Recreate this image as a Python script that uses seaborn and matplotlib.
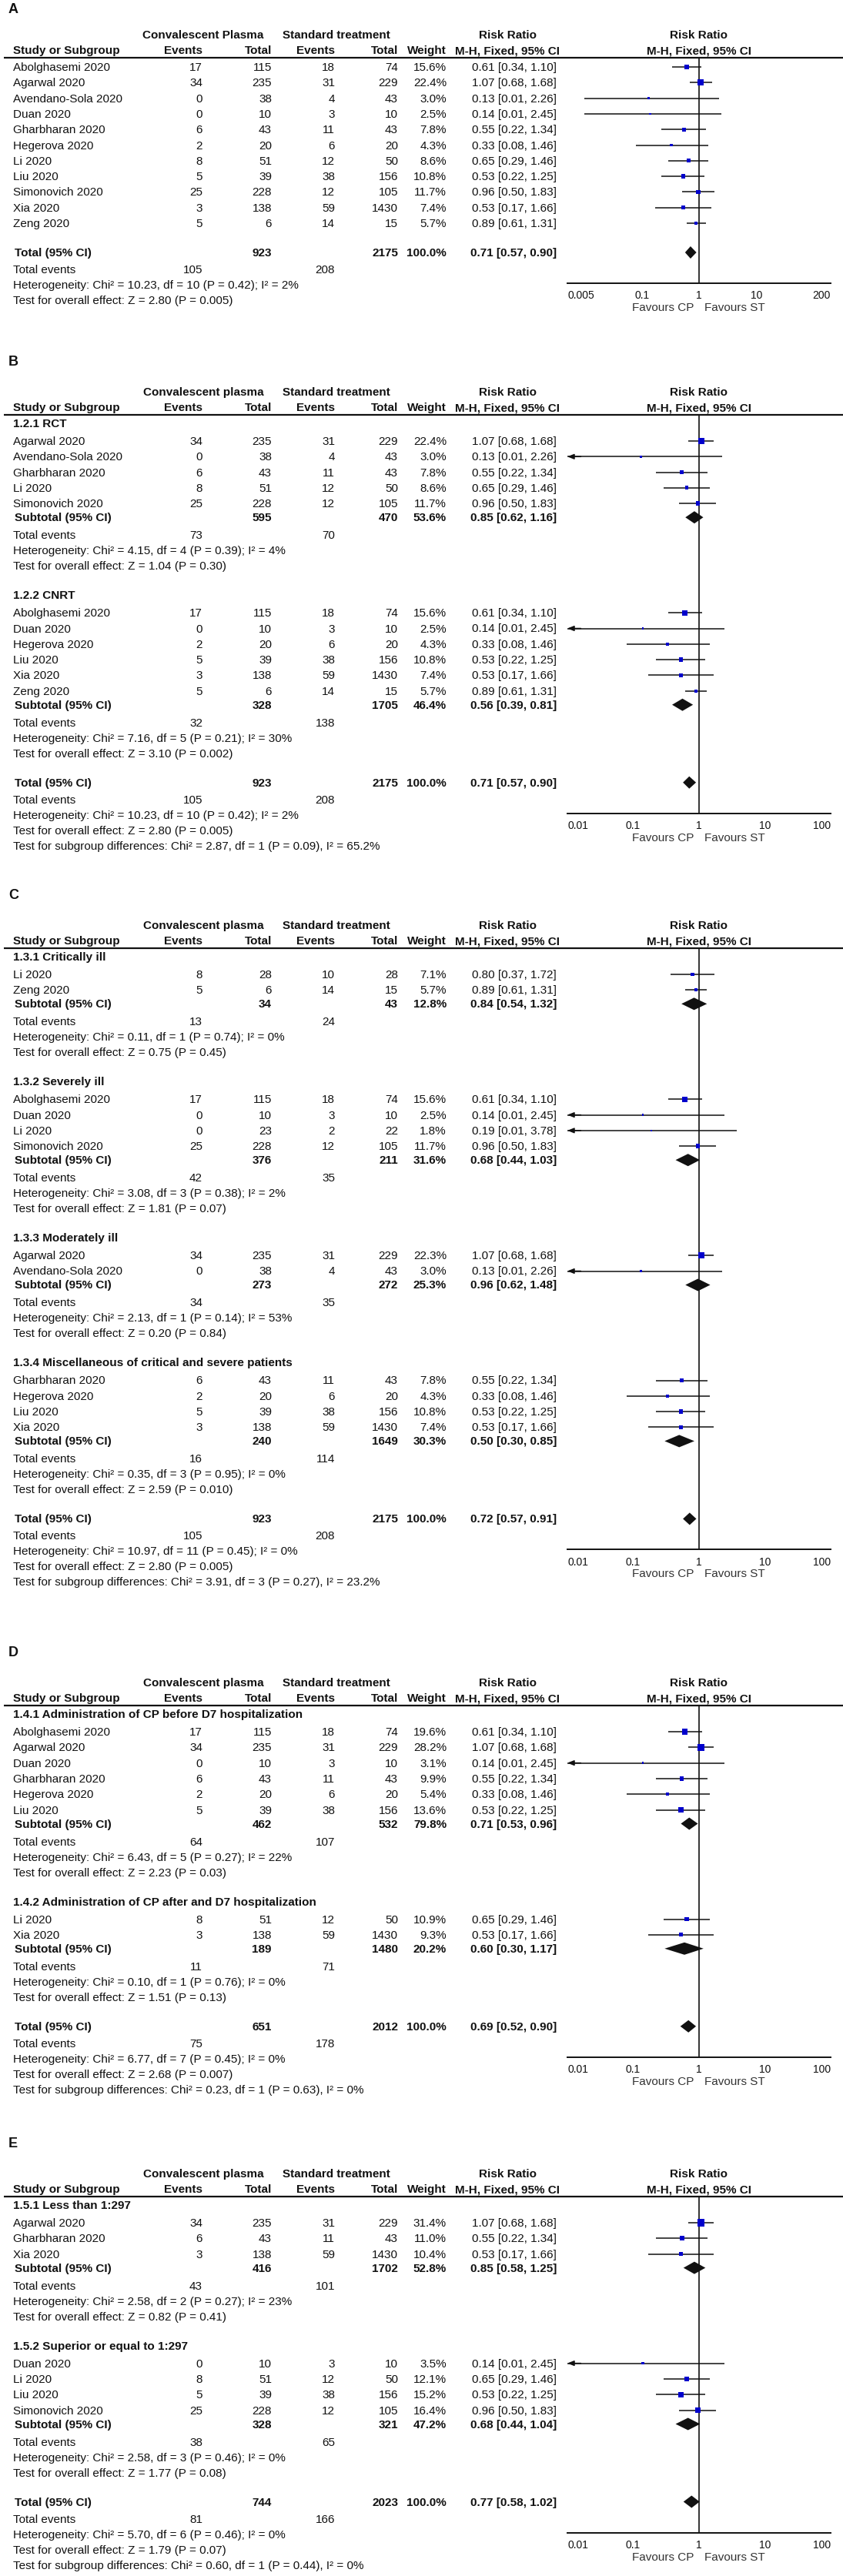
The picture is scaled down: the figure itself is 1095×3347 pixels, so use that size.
import numpy as np
import pandas as pd
import matplotlib.pyplot as plt
import seaborn as sns

# ======================================
# STUDY DATA
# ======================================

study = ["Abolghasemi 2020", "Agarwal 2020", "Avendano-Sola 2020", "Duan 2020",
         "Gharbharan 2020", "Hegerova 2020", "Li 2020", "Liu 2020",
         "Simonovich 2020", "Xia 2020", "Zeng 2020",
         "Li 2020 (critical)", "Li 2020 (severe)"]
cp_events = [17, 34, 0, 0, 6, 2, 8, 5, 25, 3, 5, 8, 0]
cp_total = [115, 235, 38, 10, 43, 20, 51, 39, 228, 138, 6, 28, 23]
st_events = [18, 31, 4, 3, 11, 6, 12, 38, 12, 59, 14, 10, 2]
st_total = [74, 229, 43, 10, 43, 20, 50, 156, 105, 1430, 15, 28, 22]
rr = [0.61, 1.07, 0.13, 0.14, 0.55, 0.33, 0.65, 0.53, 0.96, 0.53, 0.89, 0.80, 0.19]
rr_lo = [0.34, 0.68, 0.01, 0.01, 0.22, 0.08, 0.29, 0.22, 0.50, 0.17, 0.61, 0.37, 0.01]
rr_hi = [1.10, 1.68, 2.26, 2.45, 1.34, 1.46, 1.46, 1.25, 1.83, 1.66, 1.31, 1.72, 3.78]

# ======================================
# PANEL A - all studies
# ======================================

A_groups = [None]
A_members = [["Abolghasemi 2020", "Agarwal 2020", "Avendano-Sola 2020", "Duan 2020",
              "Gharbharan 2020", "Hegerova 2020", "Li 2020", "Liu 2020",
              "Simonovich 2020", "Xia 2020", "Zeng 2020"]]
A_weights = [[15.6, 22.4, 3.0, 2.5, 7.8, 4.3, 8.6, 10.8, 11.7, 7.4, 5.7]]
A_total = (923, 2175)
A_total_ci = (0.71, 0.57, 0.90)
A_total_events = (105, 208)
A_total_het = "Heterogeneity: Chi² = 10.23, df = 10 (P = 0.42); I² = 2%"
A_total_z = "Test for overall effect: Z = 2.80 (P = 0.005)"
A_ticks = [0.005, 0.1, 1, 10, 200]

# ======================================
# PANEL B - study design
# ======================================

B_groups = ["1.2.1 RCT", "1.2.2 CNRT"]
B_members = [["Agarwal 2020", "Avendano-Sola 2020", "Gharbharan 2020", "Li 2020", "Simonovich 2020"],
             ["Abolghasemi 2020", "Duan 2020", "Hegerova 2020", "Liu 2020", "Xia 2020", "Zeng 2020"]]
B_weights = [[22.4, 3.0, 7.8, 8.6, 11.7], [15.6, 2.5, 4.3, 10.8, 7.4, 5.7]]
B_sub_totals = [(595, 470), (328, 1705)]
B_sub_weight = [53.6, 46.4]
B_sub_ci = [(0.85, 0.62, 1.16), (0.56, 0.39, 0.81)]
B_sub_events = [(73, 70), (32, 138)]
B_sub_het = ["Heterogeneity: Chi² = 4.15, df = 4 (P = 0.39); I² = 4%",
             "Heterogeneity: Chi² = 7.16, df = 5 (P = 0.21); I² = 30%"]
B_sub_z = ["Test for overall effect: Z = 1.04 (P = 0.30)",
           "Test for overall effect: Z = 3.10 (P = 0.002)"]
B_total = (923, 2175)
B_total_ci = (0.71, 0.57, 0.90)
B_total_events = (105, 208)
B_total_het = "Heterogeneity: Chi² = 10.23, df = 10 (P = 0.42); I² = 2%"
B_total_z = "Test for overall effect: Z = 2.80 (P = 0.005)"
B_diff = "Test for subgroup differences: Chi² = 2.87, df = 1 (P = 0.09), I² = 65.2%"

# ======================================
# PANEL C - severity
# ======================================

C_groups = ["1.3.1 Critically ill", "1.3.2 Severely ill", "1.3.3 Moderately ill",
            "1.3.4 Miscellaneous of critical and severe patients"]
C_members = [["Li 2020 (critical)", "Zeng 2020"],
             ["Abolghasemi 2020", "Duan 2020", "Li 2020 (severe)", "Simonovich 2020"],
             ["Agarwal 2020", "Avendano-Sola 2020"],
             ["Gharbharan 2020", "Hegerova 2020", "Liu 2020", "Xia 2020"]]
C_weights = [[7.1, 5.7], [15.6, 2.5, 1.8, 11.7], [22.3, 3.0], [7.8, 4.3, 10.8, 7.4]]
C_sub_totals = [(34, 43), (376, 211), (273, 272), (240, 1649)]
C_sub_weight = [12.8, 31.6, 25.3, 30.3]
C_sub_ci = [(0.84, 0.54, 1.32), (0.68, 0.44, 1.03), (0.96, 0.62, 1.48), (0.50, 0.30, 0.85)]
C_sub_events = [(13, 24), (42, 35), (34, 35), (16, 114)]
C_sub_het = ["Heterogeneity: Chi² = 0.11, df = 1 (P = 0.74); I² = 0%",
             "Heterogeneity: Chi² = 3.08, df = 3 (P = 0.38); I² = 2%",
             "Heterogeneity: Chi² = 2.13, df = 1 (P = 0.14); I² = 53%",
             "Heterogeneity: Chi² = 0.35, df = 3 (P = 0.95); I² = 0%"]
C_sub_z = ["Test for overall effect: Z = 0.75 (P = 0.45)",
           "Test for overall effect: Z = 1.81 (P = 0.07)",
           "Test for overall effect: Z = 0.20 (P = 0.84)",
           "Test for overall effect: Z = 2.59 (P = 0.010)"]
C_total = (923, 2175)
C_total_ci = (0.72, 0.57, 0.91)
C_total_events = (105, 208)
C_total_het = "Heterogeneity: Chi² = 10.97, df = 11 (P = 0.45); I² = 0%"
C_total_z = "Test for overall effect: Z = 2.80 (P = 0.005)"
C_diff = "Test for subgroup differences: Chi² = 3.91, df = 3 (P = 0.27), I² = 23.2%"

# ======================================
# PANEL D - timing of administration
# ======================================

D_groups = ["1.4.1 Administration of CP before D7 hospitalization",
            "1.4.2 Administration of CP after and D7 hospitalization"]
D_members = [["Abolghasemi 2020", "Agarwal 2020", "Duan 2020", "Gharbharan 2020",
              "Hegerova 2020", "Liu 2020"],
             ["Li 2020", "Xia 2020"]]
D_weights = [[19.6, 28.2, 3.1, 9.9, 5.4, 13.6], [10.9, 9.3]]
D_sub_totals = [(462, 532), (189, 1480)]
D_sub_weight = [79.8, 20.2]
D_sub_ci = [(0.71, 0.53, 0.96), (0.60, 0.30, 1.17)]
D_sub_events = [(64, 107), (11, 71)]
D_sub_het = ["Heterogeneity: Chi² = 6.43, df = 5 (P = 0.27); I² = 22%",
             "Heterogeneity: Chi² = 0.10, df = 1 (P = 0.76); I² = 0%"]
D_sub_z = ["Test for overall effect: Z = 2.23 (P = 0.03)",
           "Test for overall effect: Z = 1.51 (P = 0.13)"]
D_total = (651, 2012)
D_total_ci = (0.69, 0.52, 0.90)
D_total_events = (75, 178)
D_total_het = "Heterogeneity: Chi² = 6.77, df = 7 (P = 0.45); I² = 0%"
D_total_z = "Test for overall effect: Z = 2.68 (P = 0.007)"
D_diff = "Test for subgroup differences: Chi² = 0.23, df = 1 (P = 0.63), I² = 0%"

# ======================================
# PANEL E - antibody titre
# ======================================

E_groups = ["1.5.1 Less than 1:297", "1.5.2 Superior or equal to 1:297"]
E_members = [["Agarwal 2020", "Gharbharan 2020", "Xia 2020"],
             ["Duan 2020", "Li 2020", "Liu 2020", "Simonovich 2020"]]
E_weights = [[31.4, 11.0, 10.4], [3.5, 12.1, 15.2, 16.4]]
E_sub_totals = [(416, 1702), (328, 321)]
E_sub_weight = [52.8, 47.2]
E_sub_ci = [(0.85, 0.58, 1.25), (0.68, 0.44, 1.04)]
E_sub_events = [(43, 101), (38, 65)]
E_sub_het = ["Heterogeneity: Chi² = 2.58, df = 2 (P = 0.27); I² = 23%",
             "Heterogeneity: Chi² = 2.58, df = 3 (P = 0.46); I² = 0%"]
E_sub_z = ["Test for overall effect: Z = 0.82 (P = 0.41)",
           "Test for overall effect: Z = 1.77 (P = 0.08)"]
E_total = (744, 2023)
E_total_ci = (0.77, 0.58, 1.02)
E_total_events = (81, 166)
E_total_het = "Heterogeneity: Chi² = 5.70, df = 6 (P = 0.46); I² = 0%"
E_total_z = "Test for overall effect: Z = 1.79 (P = 0.07)"
E_diff = "Test for subgroup differences: Chi² = 0.60, df = 1 (P = 0.44), I² = 0%"

RR_TICKS = [0.01, 0.1, 1, 10, 100]

studies = pd.DataFrame({
    "study": study, "cp_events": cp_events, "cp_total": cp_total,
    "st_events": st_events, "st_total": st_total,
    "rr": rr, "lo": rr_lo, "hi": rr_hi,
}).set_index("study")

# ======================================
# LAYOUT / STYLE
# ======================================

sns.set_style("white")
plt.rcParams["font.family"] = ["Liberation Sans", "DejaVu Sans"]

W, H = 1095, 3348
INK = "#111111"
SQUARE = "#0000cc"

X_STUDY, X_CPE, X_CPT, X_STE, X_STT, X_W, X_RR = 17, 263, 353, 435, 517, 580, 723
X_PLOT0, X_PLOT1 = 737, 1079
X_ZERO = (X_PLOT0 + X_PLOT1) / 2
X_CP_HEAD, X_ST_HEAD, X_RR_HEAD = 264, 437, 659
STEP = 20.3

fig = plt.figure(figsize=(W / 100, H / 100), dpi=100)
bg = fig.add_axes([0, 0, 1, 1])
bg.set_xlim(0, W)
bg.set_ylim(H, 0)
bg.axis("off")


def txt(x, y, s, ha="left", bold=False, size=11, color=INK):
    bg.text(x, y, s, ha=ha, va="center", fontsize=size,
            fontweight="bold" if bold else "normal", color=color)


def ci_text(est, lo, hi):
    return f"{est:.2f} [{lo:.2f}, {hi:.2f}]"


def draw_panel(p):
    txt(11, p["label_y"], p["letter"], bold=True, size=13)

    # header
    y = p["h1"]
    txt(X_CP_HEAD, y, p["cp_head"], ha="center", bold=True)
    txt(X_ST_HEAD, y, "Standard treatment", ha="center", bold=True)
    txt(X_RR_HEAD, y, "Risk Ratio", ha="center", bold=True)
    txt(X_ZERO, y, "Risk Ratio", ha="center", bold=True)
    y += 20
    txt(X_STUDY, y, "Study or Subgroup", bold=True)
    txt(X_CPE, y, "Events", ha="right", bold=True)
    txt(X_CPT, y, "Total", ha="right", bold=True)
    txt(X_STE, y, "Events", ha="right", bold=True)
    txt(X_STT, y, "Total", ha="right", bold=True)
    txt(X_W, y, "Weight", ha="right", bold=True)
    txt(X_RR_HEAD, y, "M-H, Fixed, 95% CI", ha="center", bold=True)
    txt(X_ZERO, y, "M-H, Fixed, 95% CI", ha="center", bold=True)
    y_line = y + 10
    bg.hlines(y_line, 5, W, color=INK, lw=1.6)

    pts = []
    pooled = []
    y = y_line
    for g, name in enumerate(p["groups"]):
        if name:
            y += 11 if g == 0 else 38
            txt(X_STUDY, y, name, bold=True)
            y += 23
        else:
            y += 12
        for k, key in enumerate(p["members"][g]):
            if k:
                y += STEP
            s = studies.loc[key]
            w = p["weights"][g][k]
            txt(X_STUDY, y, key.split(" (")[0])
            txt(X_CPE, y, f"{int(s.cp_events)}", ha="right")
            txt(X_CPT, y, f"{int(s.cp_total)}", ha="right")
            txt(X_STE, y, f"{int(s.st_events)}", ha="right")
            txt(X_STT, y, f"{int(s.st_total)}", ha="right")
            txt(X_W, y, f"{w:.1f}%", ha="right")
            txt(X_RR, y, ci_text(s.rr, s.lo, s.hi), ha="right")
            pts.append((s.rr, s.lo, s.hi, w, y))
        if name:
            y += 18
            est, lo, hi = p["sub_ci"][g]
            txt(X_STUDY + 2, y, "Subtotal (95% CI)", bold=True)
            txt(X_CPT, y, f"{p['sub_totals'][g][0]}", ha="right", bold=True)
            txt(X_STT, y, f"{p['sub_totals'][g][1]}", ha="right", bold=True)
            txt(X_W, y, f"{p['sub_weight'][g]:.1f}%", ha="right", bold=True)
            txt(X_RR, y, ci_text(est, lo, hi), ha="right", bold=True)
            pooled.append((est, lo, hi, y))
            y += 23
            txt(X_STUDY, y, "Total events")
            txt(X_CPE, y, f"{p['sub_events'][g][0]}", ha="right")
            txt(X_STE, y, f"{p['sub_events'][g][1]}", ha="right")
            y += 20
            txt(X_STUDY, y, p["sub_het"][g])
            y += 20
            txt(X_STUDY, y, p["sub_z"][g])

    # overall total
    y += 38
    y_total = y
    est, lo, hi = p["total_ci"]
    txt(X_STUDY + 2, y, "Total (95% CI)", bold=True)
    txt(X_CPT, y, f"{p['total'][0]}", ha="right", bold=True)
    txt(X_STT, y, f"{p['total'][1]}", ha="right", bold=True)
    txt(X_W, y, "100.0%", ha="right", bold=True)
    txt(X_RR, y, ci_text(est, lo, hi), ha="right", bold=True)
    pooled.append((est, lo, hi, y))
    y += 22
    txt(X_STUDY, y, "Total events")
    txt(X_CPE, y, f"{p['total_events'][0]}", ha="right")
    txt(X_STE, y, f"{p['total_events'][1]}", ha="right")
    y += 20
    txt(X_STUDY, y, p["total_het"])
    y += 20
    txt(X_STUDY, y, p["total_z"])
    if p.get("diff"):
        y += 20
        txt(X_STUDY, y, p["diff"])

    # forest plot
    axis_y = y_total + 40
    ticks = p["ticks"]
    ax = fig.add_axes([X_PLOT0 / W, 1 - axis_y / H,
                       (X_PLOT1 - X_PLOT0) / W, (axis_y - y_line) / H])
    ax.patch.set_alpha(0)
    ax.set_xscale("log")

    df = pd.DataFrame(pts, columns=["rr", "lo", "hi", "weight", "y"])
    xmin = ticks[0]
    for r in df.itertuples():
        if r.lo <= xmin:
            ax.hlines(r.y, xmin, r.hi, color=INK, lw=1.1, zorder=2)
            ax.annotate("", xy=(xmin, r.y), xytext=(xmin * 1.6, r.y),
                        arrowprops=dict(arrowstyle="-|>,head_length=0.5,head_width=0.2",
                                        color=INK, lw=1.1, shrinkA=0, shrinkB=0),
                        annotation_clip=False)
        else:
            ax.hlines(r.y, r.lo, r.hi, color=INK, lw=1.1, zorder=2)

    sns.scatterplot(data=df, x="rr", y="y", size="weight", sizes=(0, 52),
                    size_norm=(0, 35), marker="s", color=SQUARE, linewidth=0,
                    legend=False, ax=ax, zorder=4)

    for est, lo, hi, yy in pooled:
        ax.fill([lo, est, hi, est], [yy, yy - 8, yy, yy + 8], color=INK, lw=0, zorder=4)

    ax.axvline(1, color=INK, lw=1.2, zorder=1)
    ax.set_xlim(ticks[0], ticks[-1])
    ax.set_ylim(axis_y, y_line)

    for side in ["top", "right", "left"]:
        ax.spines[side].set_visible(False)
    ax.spines["bottom"].set_color(INK)
    ax.spines["bottom"].set_linewidth(1.4)
    ax.set_yticks([])
    ax.set_xlabel("")
    ax.set_ylabel("")
    ax.set_xticks(ticks)
    ax.xaxis.set_minor_locator(plt.NullLocator())
    ax.set_xticklabels([f"{t:g}" for t in ticks])
    ax.tick_params(axis="x", direction="inout", length=10, width=1.2,
                   labelsize=10, pad=1, colors=INK)
    labels = ax.get_xticklabels()
    labels[0].set_ha("left")
    labels[-1].set_ha("right")

    txt(X_ZERO - 7, axis_y + 31, "Favours CP", ha="right", color="#333333")
    txt(X_ZERO + 7, axis_y + 31, "Favours ST", ha="left", color="#333333")


# ======================================
# BUILD PANELS
# ======================================

panels = [
    dict(letter="A", label_y=12, h1=46, cp_head="Convalescent Plasma",
         groups=A_groups, members=A_members, weights=A_weights,
         total=A_total, total_ci=A_total_ci, total_events=A_total_events,
         total_het=A_total_het, total_z=A_total_z, diff=None, ticks=A_ticks),
    dict(letter="B", label_y=470, h1=510, cp_head="Convalescent plasma",
         groups=B_groups, members=B_members, weights=B_weights,
         sub_totals=B_sub_totals, sub_weight=B_sub_weight, sub_ci=B_sub_ci,
         sub_events=B_sub_events, sub_het=B_sub_het, sub_z=B_sub_z,
         total=B_total, total_ci=B_total_ci, total_events=B_total_events,
         total_het=B_total_het, total_z=B_total_z, diff=B_diff, ticks=RR_TICKS),
    dict(letter="C", label_y=1163, h1=1203, cp_head="Convalescent plasma",
         groups=C_groups, members=C_members, weights=C_weights,
         sub_totals=C_sub_totals, sub_weight=C_sub_weight, sub_ci=C_sub_ci,
         sub_events=C_sub_events, sub_het=C_sub_het, sub_z=C_sub_z,
         total=C_total, total_ci=C_total_ci, total_events=C_total_events,
         total_het=C_total_het, total_z=C_total_z, diff=C_diff, ticks=RR_TICKS),
    dict(letter="D", label_y=2148, h1=2187, cp_head="Convalescent plasma",
         groups=D_groups, members=D_members, weights=D_weights,
         sub_totals=D_sub_totals, sub_weight=D_sub_weight, sub_ci=D_sub_ci,
         sub_events=D_sub_events, sub_het=D_sub_het, sub_z=D_sub_z,
         total=D_total, total_ci=D_total_ci, total_events=D_total_events,
         total_het=D_total_het, total_z=D_total_z, diff=D_diff, ticks=RR_TICKS),
    dict(letter="E", label_y=2786, h1=2825, cp_head="Convalescent plasma",
         groups=E_groups, members=E_members, weights=E_weights,
         sub_totals=E_sub_totals, sub_weight=E_sub_weight, sub_ci=E_sub_ci,
         sub_events=E_sub_events, sub_het=E_sub_het, sub_z=E_sub_z,
         total=E_total, total_ci=E_total_ci, total_events=E_total_events,
         total_het=E_total_het, total_z=E_total_z, diff=E_diff, ticks=RR_TICKS),
]

for p in panels:
    draw_panel(p)

fig.savefig("out.png", dpi=100, facecolor="white")
